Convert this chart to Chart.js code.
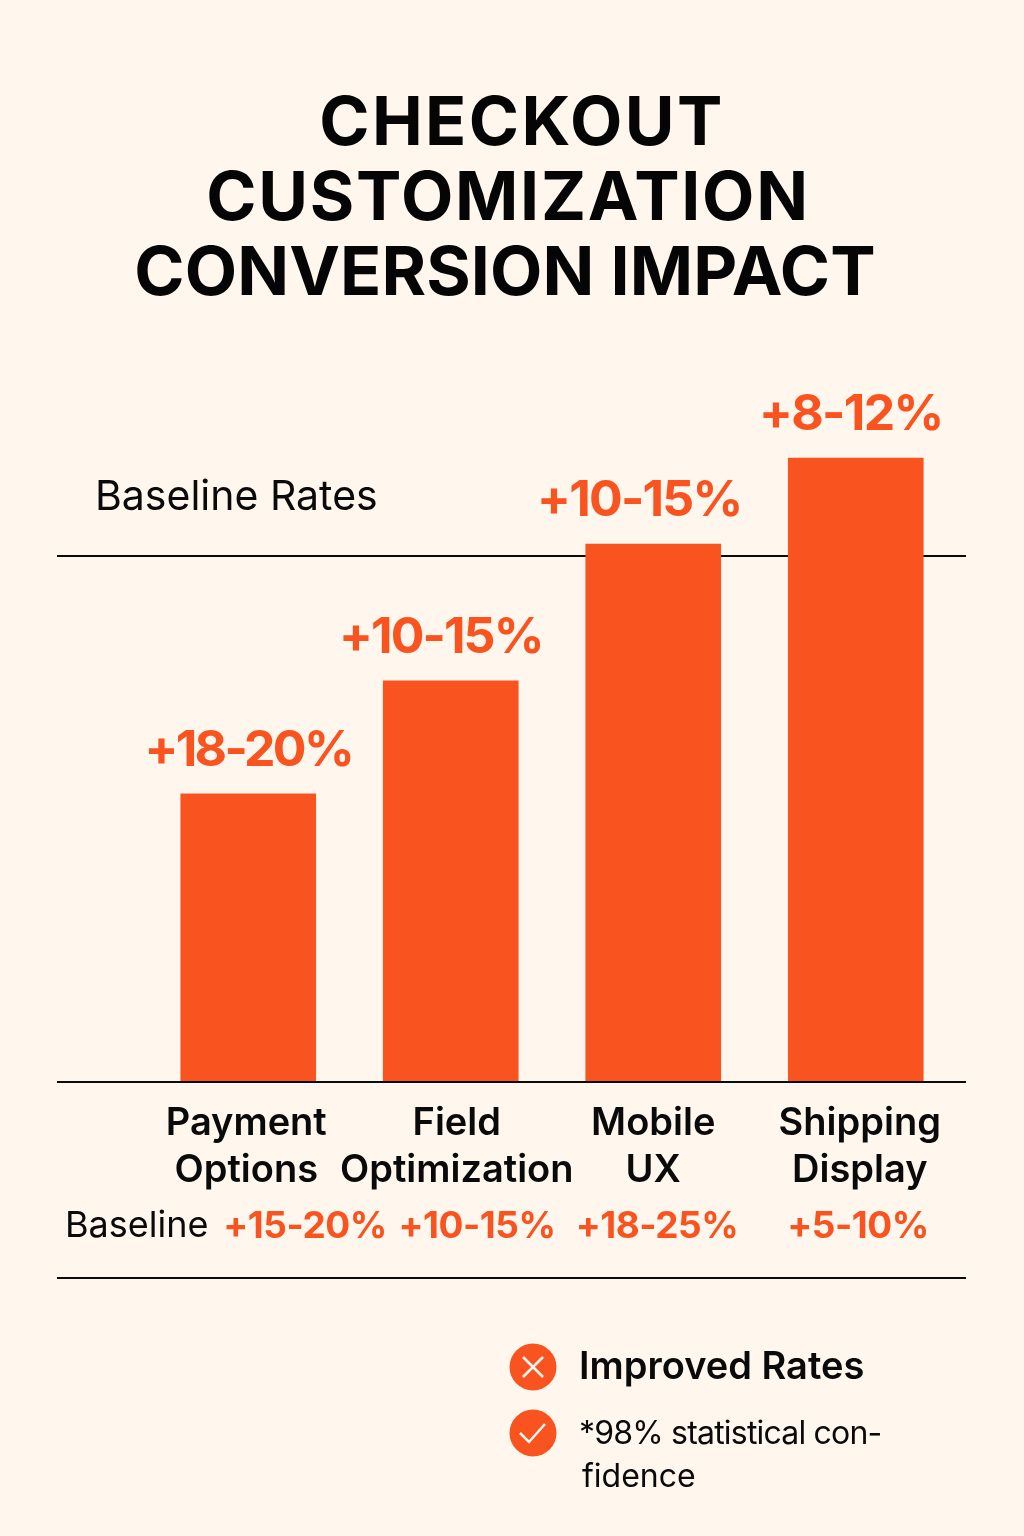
<!DOCTYPE html>
<html>
<head>
<meta charset="utf-8">
<title>Checkout Customization Conversion Impact</title>
<script src="https://cdn.jsdelivr.net/npm/chart.js@4"></script>
<style>
    html, body { margin: 0; padding: 0; background: #FFF7EE; }
    #wrap { width: 1024px; height: 1536px; position: relative; }
</style>
</head>
<body>
<div id="wrap"><canvas id="impactChart" width="1024" height="1536"></canvas></div>
<script>
// data (bar heights as index, tallest = 100)
const categories = [['Payment', 'Options'], ['Field', 'Optimization'], ['Mobile', 'UX'], ['Shipping', 'Display']];
const improvedValues = [46.2, 64.3, 86.2, 100];
const improvedLabels = ['+18-20%', '+10-15%', '+10-15%', '+8-12%'];
const baselineLabels = ['+15-20%', '+10-15%', '+18-25%', '+5-10%'];
const baselineLevel = 84.3;
const titleLines = ['CHECKOUT', 'CUSTOMIZATION', 'CONVERSION IMPACT'];

const ORANGE = '#F9531F';
const INK = '#0A0A0A';
const FONT = 'Inter, "Noto Sans", sans-serif';

// text centres that do not sit on the bar centres
const labelShift = [0, -10, -14, -5];
const catShift = [-2, 6, 0, 4];
const baseRowX = [305, 477, 657, 858];
const titleShift = [10, -4, -7];
const titleSpacing = [2.4, 1.7, 0.1];
const labelSpacing = [-2.7, -1.9, -1.8, -1.7];

function text(ctx, str, x, y, font, color, align, spacing) {
    ctx.font = font;
    ctx.letterSpacing = (spacing || 0) + 'px';
    ctx.fillStyle = color;
    ctx.textAlign = align || 'center';
    ctx.textBaseline = 'alphabetic';
    ctx.fillText(str, x, y);
    ctx.letterSpacing = '0px';
}

function rule(ctx, y, x1, x2) {
    ctx.strokeStyle = INK;
    ctx.lineWidth = 2;
    ctx.beginPath();
    ctx.moveTo(x1, y);
    ctx.lineTo(x2, y);
    ctx.stroke();
}

// baseline rule goes behind the bars
const behindBars = {
    id: 'behindBars',
    beforeDatasetsDraw(chart) {
        const ctx = chart.ctx;
        ctx.save();
        rule(ctx, chart.scales.y.getPixelForValue(baselineLevel), 57, 966);
        ctx.restore();
    }
};

const overlay = {
    id: 'overlay',
    afterDraw(chart) {
        const ctx = chart.ctx;
        const yScale = chart.scales.y;
        const bars = chart.getDatasetMeta(0).data;
        ctx.save();

        // title
        titleLines.forEach(function(line, i) {
            text(ctx, line, 512 + titleShift[i], 145 + i * 75, '700 68px ' + FONT, '#050505', 'center', titleSpacing[i]);
        });

        text(ctx, 'Baseline Rates', 95, 510, '400 41px ' + FONT, INK, 'left');
        rule(ctx, yScale.getPixelForValue(0), 57, 966);
        rule(ctx, 1278, 57, 966);

        bars.forEach(function(bar, i) {
            text(ctx, improvedLabels[i], bar.x + labelShift[i], bar.y - 28, '700 50px ' + FONT, ORANGE, 'center', labelSpacing[i]);
            categories[i].forEach(function(line, j) {
                text(ctx, line, bar.x + catShift[i], 1135 + j * 47, '600 38px ' + FONT, INK);
            });
            text(ctx, baselineLabels[i], baseRowX[i], 1238, '700 37px ' + FONT, ORANGE, 'center', -0.5);
        });
        text(ctx, 'Baseline', 65, 1237, '400 36px ' + FONT, INK, 'left');

        // legend
        ctx.fillStyle = ORANGE;
        ctx.beginPath(); ctx.arc(533, 1367, 23.5, 0, Math.PI * 2); ctx.fill();
        ctx.beginPath(); ctx.arc(533, 1433, 23.5, 0, Math.PI * 2); ctx.fill();
        ctx.strokeStyle = '#FFF7EE';
        ctx.lineWidth = 2.5;
        ctx.beginPath();
        ctx.moveTo(523, 1357); ctx.lineTo(543, 1377);
        ctx.moveTo(543, 1357); ctx.lineTo(523, 1377);
        ctx.moveTo(520, 1433); ctx.lineTo(529, 1442); ctx.lineTo(545, 1424);
        ctx.stroke();

        text(ctx, 'Improved Rates', 579, 1379, '600 38px ' + FONT, INK, 'left');
        text(ctx, '*98% statistical con-', 579, 1444, '400 32px ' + FONT, INK, 'left', -0.8);
        text(ctx, 'fidence', 582, 1487, '400 32px ' + FONT, INK, 'left');
        ctx.restore();
    }
};

document.addEventListener('DOMContentLoaded', function() {
    new Chart(document.getElementById('impactChart'), {
        type: 'bar',
        data: {
            labels: categories,
            datasets: [{
                label: 'Improved Rates',
                data: improvedValues,
                backgroundColor: ORANGE,
                borderWidth: 0,
                barThickness: 135
            }]
        },
        options: {
            responsive: false,
            animation: false,
            layout: { padding: { left: 147, right: 67, top: 382, bottom: 454 } },
            plugins: {
                legend: { display: false },
                tooltip: { enabled: false }
            },
            scales: {
                x: { display: false },
                y: { display: false, min: 0, max: 112.18 }
            }
        },
        plugins: [behindBars, overlay]
    });
});
</script>
</body>
</html>
